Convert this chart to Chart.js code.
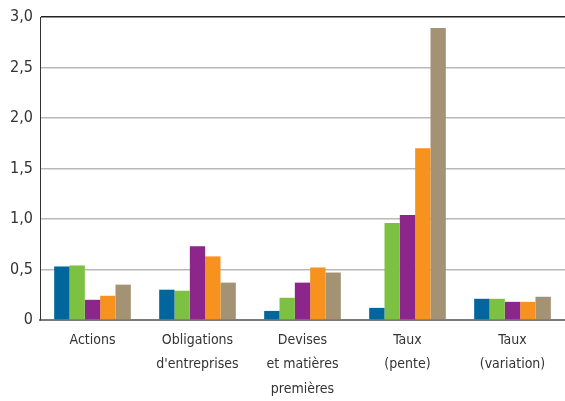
<!DOCTYPE html>
<html lang="fr">
<head>
<meta charset="UTF-8">
<title>Graphique</title>
<script src="https://cdn.jsdelivr.net/npm/chart.js"></script>
<style>
  html, body { margin: 0; padding: 0; background: #fff; }
  #wrap { width: 565px; height: 401px; }
</style>
</head>
<body>
<div id="wrap"><canvas id="chart"></canvas></div>
<script>
// categories and series
const categories = [
  'Actions',
  ['Obligations', "d'entreprises"],
  ['Devises', 'et matières', 'premières'],
  ['Taux', '(pente)'],
  ['Taux', '(variation)']
];
const serie1 = [0.53, 0.30, 0.09, 0.12, 0.21];
const serie2 = [0.54, 0.29, 0.22, 0.96, 0.21];
const serie3 = [0.20, 0.73, 0.37, 1.04, 0.18];
const serie4 = [0.24, 0.63, 0.52, 1.70, 0.18];
const serie5 = [0.35, 0.37, 0.47, 2.89, 0.23];
const colors = ['#00669b', '#7dc142', '#8d268b', '#f7921e', '#a39273'];

const fontFamily = "'DejaVu Sans Condensed', 'Liberation Sans Narrow', sans-serif";

const datasets = [serie1, serie2, serie3, serie4, serie5].map((d, i) => ({
  data: d,
  backgroundColor: colors[i],
  borderWidth: 0,
  barPercentage: 1,
  categoryPercentage: 0.73
}));

new Chart(document.getElementById('chart'), {
  type: 'bar',
  data: { labels: categories, datasets },
  options: {
    responsive: true,
    maintainAspectRatio: false,
    animation: false,
    layout: { padding: { top: 17, right: 0, bottom: 0, left: 0 } },
    plugins: { legend: { display: false }, tooltip: { enabled: false } },
    scales: {
      x: {
        grid: { display: false },
        border: { color: '#7a7a7a', width: 2 },
        ticks: {
          color: '#333',
          font: { family: fontFamily, size: 14, lineHeight: 1.75 },
          padding: 0,
          maxRotation: 0
        },
        afterFit: s => { s.height = 81; }
      },
      y: {
        min: 0,
        max: 3,
        ticks: {
          stepSize: 0.5,
          color: '#333',
          font: { family: fontFamily, size: 16 },
          padding: 7,
          callback: v => v === 0 ? '0' : v.toFixed(1).replace('.', ',')
        },
        grid: {
          drawTicks: false,
          color: c => c.tick.value === 3 ? '#222' : '#b9b9b9',
          lineWidth: 1.5
        },
        border: { color: '#333', width: 1 },
        afterFit: s => { s.width = 40; }
      }
    }
  }
});
</script>
</body>
</html>
